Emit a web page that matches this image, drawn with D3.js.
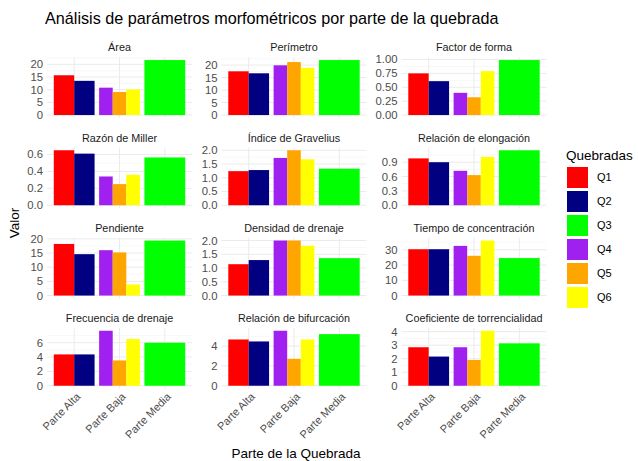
<!DOCTYPE html>
<html><head><meta charset="utf-8">
<script src="https://cdn.jsdelivr.net/npm/d3@7"></script>
<style>body{margin:0;background:#fff}svg{display:block;font-family:"Liberation Sans",Arial,sans-serif}</style>
</head><body>
<script>
const quebradas = ["Q1","Q2","Q3","Q4","Q5","Q6"];
const partes = ["Parte Alta","Parte Alta","Parte Media","Parte Baja","Parte Baja","Parte Baja"];
const categories = ["Parte Alta","Parte Baja","Parte Media"];
const colors = ["#FF0000","#000080","#00FF00","#A020F0","#FFA500","#FFFF00"];
const parametros = ["Área","Perímetro","Factor de forma","Razón de Miller","Índice de Gravelius","Relación de elongación","Pendiente","Densidad de drenaje","Tiempo de concentración","Frecuencia de drenaje","Relación de bifurcación","Coeficiente de torrencialidad"];
// values in order Q1..Q6
const area        = [15.7, 13.5, 21.7, 10.8, 9.1, 10.1];
const perimetro   = [17.5, 16.7, 22.0, 19.9, 21.2, 18.9];
const factorForma = [0.75, 0.61, 0.99, 0.40, 0.32, 0.79];
const razonMiller = [0.65, 0.61, 0.565, 0.34, 0.25, 0.36];
const gravelius   = [1.24, 1.28, 1.33, 1.72, 2.00, 1.67];
const elongacion  = [0.98, 0.90, 1.15, 0.72, 0.63, 1.01];
const pendiente   = [18.2, 14.6, 19.4, 16.0, 15.2, 3.9];
const densidad    = [1.14, 1.29, 1.36, 2.00, 2.00, 1.81];
const tiempo      = [30.4, 30.4, 24.6, 32.6, 26.1, 36.1];
const frecuencia  = [4.37, 4.37, 6.0, 7.67, 3.53, 6.51];
const bifurcacion = [4.67, 4.47, 5.21, 5.55, 2.72, 4.67];
const torrencial  = [2.85, 2.16, 3.14, 2.85, 1.91, 4.07];
const valores = [area, perimetro, factorForma, razonMiller, gravelius, elongacion, pendiente, densidad, tiempo, frecuencia, bifurcacion, torrencial];
// tick labels per panel
const ticks = [
  ["0","5","10","15","20"],
  ["0","5","10","15","20"],
  ["0.00","0.25","0.50","0.75","1.00"],
  ["0.0","0.2","0.4","0.6"],
  ["0.0","0.5","1.0","1.5","2.0"],
  ["0.0","0.3","0.6","0.9"],
  ["0","5","10","15","20"],
  ["0.0","0.5","1.0","1.5","2.0"],
  ["0","10","20","30"],
  ["0","2","4","6"],
  ["0","2","4"],
  ["0","1","2","3","4"]
];

const W = 638, H = 461;
const svg = d3.select("body").append("svg").attr("width", W).attr("height", H);

const colLeft = [47, 221.5, 401.5], pw = 145;
const rowTop = [57.3, 147.5, 237.8, 328], ph = 60.5;

svg.append("text").attr("x", 45).attr("y", 24).attr("font-size", 16.2).attr("fill", "#000")
  .text("Análisis de parámetros morfométricos por parte de la quebrada");

parametros.forEach((name, i) => {
  const c = i % 3, r = Math.floor(i / 3);
  const L = colLeft[c], T = rowTop[r];
  const vals = valores[i];
  const mx = d3.max(vals);
  const x = d3.scaleLinear().domain([0.4, 3.6]).range([L, L + pw]);
  const y = d3.scaleLinear().domain([-0.05 * mx, 1.05 * mx]).range([T + ph, T]);
  const g = svg.append("g");
  const tv = ticks[i].map(Number);
  const step = tv[1] - tv[0];
  const ext = [tv[0] - step, ...tv, tv[tv.length - 1] + step];
  const minors = [];
  for (let k = 0; k < ext.length - 1; k++) {
    const m = (ext[k] + ext[k + 1]) / 2;
    if (m >= y.domain()[0] && m <= y.domain()[1]) minors.push(m);
  }
  g.selectAll(".mn").data(minors).join("line")
    .attr("x1", L).attr("x2", L + pw).attr("y1", d => y(d)).attr("y2", d => y(d))
    .attr("stroke", "#F2F2F2").attr("stroke-width", 0.6);
  g.selectAll(".mj").data(tv).join("line")
    .attr("x1", L).attr("x2", L + pw).attr("y1", d => y(d)).attr("y2", d => y(d))
    .attr("stroke", "#EBEBEB").attr("stroke-width", 1);
  g.selectAll(".vx").data([1, 2, 3]).join("line")
    .attr("x1", d => x(d)).attr("x2", d => x(d)).attr("y1", T).attr("y2", T + ph)
    .attr("stroke", "#EBEBEB").attr("stroke-width", 1);
  // bars with dodge
  const bars = quebradas.map((q, j) => {
    const cat = partes[j];
    const members = quebradas.filter((_, k) => partes[k] === cat);
    const n = members.length, idx = members.indexOf(q);
    const center = categories.indexOf(cat) + 1;
    const w = 0.9 / n;
    const x0 = center - 0.45 + idx * w;
    return {x0, x1: x0 + w, v: vals[j], col: colors[j]};
  });
  g.selectAll("rect").data(bars).join("rect")
    .attr("x", d => x(d.x0)).attr("width", d => x(d.x1) - x(d.x0))
    .attr("y", d => y(d.v)).attr("height", d => y(0) - y(d.v))
    .attr("fill", d => d.col);
  // y tick labels
  g.selectAll(".yt").data(ticks[i]).join("text")
    .attr("x", L - 4).attr("y", d => y(+d)).attr("dy", "0.35em")
    .attr("text-anchor", "end").attr("font-size", 11.3).attr("fill", "#4D4D4D").text(d => d);
  // strip
  g.append("text").attr("x", L + pw / 2).attr("y", T - 6).attr("text-anchor", "middle")
    .attr("font-size", 10.8).attr("fill", "#1A1A1A").text(name);
  // x labels on bottom row
  if (r === 3) {
    g.selectAll(".xt").data(categories).join("text")
      .attr("transform", (d, k) => `translate(${x(k + 1) + 1},${T + ph + 3}) rotate(-45)`)
      .attr("dy", "0.75em").attr("text-anchor", "end")
      .attr("font-size", 11).attr("fill", "#4D4D4D").text(d => d);
  }
});

svg.append("text").attr("x", 296).attr("y", 458).attr("text-anchor", "middle")
  .attr("font-size", 13.5).attr("fill", "#000").text("Parte de la Quebrada");
svg.append("text").attr("transform", "translate(19,223) rotate(-90)").attr("text-anchor", "middle")
  .attr("font-size", 13.5).attr("fill", "#000").text("Valor");

const lg = svg.append("g");
lg.append("text").attr("x", 566).attr("y", 160).attr("font-size", 13.5).attr("fill", "#000").text("Quebradas");
lg.selectAll("rect").data(quebradas).join("rect")
  .attr("x", 567).attr("y", (d, k) => 167 + k * 24).attr("width", 21).attr("height", 21)
  .attr("fill", (d, k) => colors[k]);
lg.selectAll(".lt").data(quebradas).join("text")
  .attr("x", 597).attr("y", (d, k) => 177.5 + k * 24).attr("dy", "0.35em")
  .attr("font-size", 11).attr("fill", "#000").text(d => d);
</script>
</body></html>
